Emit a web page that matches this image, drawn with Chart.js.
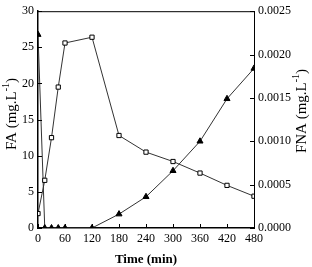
<!DOCTYPE html>
<html>
<head>
<meta charset="utf-8">
<script src="https://cdn.jsdelivr.net/npm/chart.js@4"></script>
<style>
  html, body { margin: 0; padding: 0; background: #fff; }
  #wrap { width: 312px; height: 267px; }
</style>
</head>
<body>
<div id="wrap"><canvas id="myChart" width="312" height="267"></canvas></div>
<script>
// time (min)
const faTimes = [0, 15, 30, 45, 60, 120, 180, 240, 300, 360, 420, 480];
const faValues = [2.0, 6.6, 12.5, 19.5, 25.6, 26.4, 12.8, 10.5, 9.2, 7.6, 5.9, 4.4];
const fnaTimes = [0, 15, 30, 45, 60, 120, 180, 240, 300, 360, 420, 480];
const fnaValues = [0.00223, 0, 0, 0, 0, 0, 0.00016, 0.00036, 0.00066, 0.0010, 0.00149, 0.00184];
const xTicks = [0, 60, 120, 180, 240, 300, 360, 420, 480];

const font = { family: 'Liberation Serif', size: 12 };
const titleFont = { family: 'Liberation Serif', size: 13, weight: 'bold' };

// inward tick marks + top frame line
const frameTicks = {
  id: 'frameTicks',
  afterDraw(chart) {
    const ctx = chart.ctx;
    const a = chart.chartArea;
    ctx.save();
    ctx.strokeStyle = '#000';
    ctx.lineWidth = 1;
    ctx.beginPath();
    ctx.moveTo(a.left, a.top + 0.5);
    ctx.lineTo(a.right, a.top + 0.5);
    chart.scales.x.ticks.forEach(t => {
      const px = Math.round(chart.scales.x.getPixelForValue(t.value)) + 0.5;
      ctx.moveTo(px, a.bottom);
      ctx.lineTo(px, a.bottom - 4);
    });
    chart.scales.y.ticks.forEach(t => {
      const py = Math.round(chart.scales.y.getPixelForValue(t.value)) + 0.5;
      ctx.moveTo(a.left, py);
      ctx.lineTo(a.left + 4, py);
    });
    chart.scales.y1.ticks.forEach(t => {
      const py = Math.round(chart.scales.y1.getPixelForValue(t.value)) + 0.5;
      ctx.moveTo(a.right, py);
      ctx.lineTo(a.right - 4, py);
    });
    ctx.stroke();
    ctx.restore();
  }
};

// vertical axis titles with a real superscript, both reading bottom-to-top
function drawTitle(ctx, name, cx, cy) {
  const big = '15px "Liberation Serif"';
  const small = '10px "Liberation Serif"';
  const parts = [[name + ' (mg.L', big, 0], ['-1', small, -6], [')', big, 0]];
  let w = 0;
  parts.forEach(p => { ctx.font = p[1]; w += ctx.measureText(p[0]).width; });
  ctx.save();
  ctx.translate(cx, cy);
  ctx.rotate(-Math.PI / 2);
  ctx.fillStyle = '#000';
  ctx.textBaseline = 'middle';
  ctx.textAlign = 'left';
  let x = -w / 2;
  parts.forEach(p => {
    ctx.font = p[1];
    ctx.fillText(p[0], x, p[2]);
    x += ctx.measureText(p[0]).width;
  });
  ctx.restore();
}

const axisTitles = {
  id: 'axisTitles',
  afterDraw(chart) {
    drawTitle(chart.ctx, 'FA', 12, 114);
    drawTitle(chart.ctx, 'FNA', 302, 111);
  }
};

const ctx = document.getElementById('myChart');
new Chart(ctx, {
  type: 'line',
  data: {
    datasets: [{
      label: 'FA',
      data: faTimes.map((t, i) => ({ x: t, y: faValues[i] })),
      yAxisID: 'y',
      borderColor: '#333',
      borderWidth: 1,
      pointStyle: 'rect',
      pointRadius: 3,
      pointBackgroundColor: '#fff',
      pointBorderColor: '#000',
      pointBorderWidth: 1
    }, {
      label: 'FNA',
      data: fnaTimes.map((t, i) => ({ x: t, y: fnaValues[i] })),
      yAxisID: 'y1',
      borderColor: '#333',
      borderWidth: 1,
      pointStyle: 'triangle',
      pointRadius: 3.5,
      pointBackgroundColor: '#000',
      pointBorderColor: '#000',
      pointBorderWidth: 1
    }]
  },
  options: {
    responsive: false,
    animation: false,
    layout: { padding: { top: 6, left: 0, right: 0, bottom: 0 } },
    plugins: { legend: { display: false }, tooltip: { enabled: false } },
    scales: {
      x: {
        type: 'linear',
        min: 0,
        max: 480,
        afterBuildTicks: function(scale) {
          scale.ticks = xTicks.map(v => ({ value: v }));
        },
        afterFit: function(scale) { scale.height = 39; },
        grid: { display: false, drawTicks: false },
        border: { display: true, color: '#000', width: 1.5 },
        ticks: { color: '#000', font: font, padding: 4, maxRotation: 0 },
        title: { display: true, text: 'Time (min)', color: '#000', font: titleFont, padding: { top: 0, bottom: 0 } }
      },
      y: {
        position: 'left',
        min: 0,
        max: 30,
        afterFit: function(scale) { scale.width = 38; },
        grid: { display: false, drawTicks: false },
        border: { display: true, color: '#000', width: 1.5 },
        ticks: { stepSize: 5, color: '#000', font: font, padding: 4 }
      },
      y1: {
        position: 'right',
        min: 0,
        max: 0.0025,
        afterFit: function(scale) { scale.width = 58; },
        grid: { display: false, drawTicks: false },
        border: { display: true, color: '#000', width: 1 },
        ticks: {
          stepSize: 0.0005,
          color: '#000',
          font: font,
          padding: 4,
          callback: function(v) { return v.toFixed(4); }
        }
      }
    }
  },
  plugins: [frameTicks, axisTitles]
});
</script>
</body>
</html>
